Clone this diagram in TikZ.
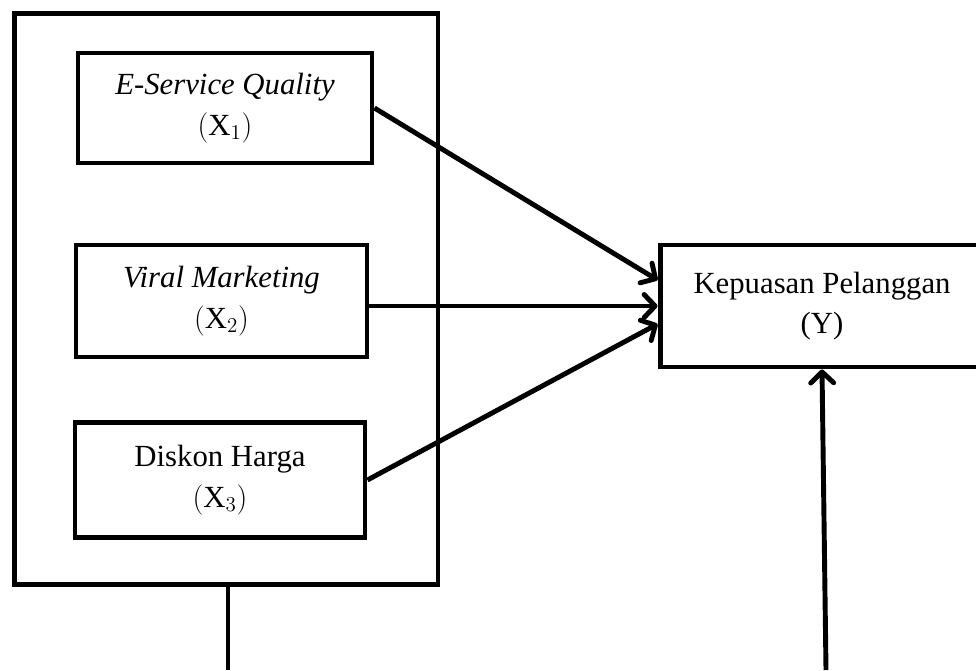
\documentclass[tikz,border=0pt]{standalone}
\usepackage{fontspec}
\setmainfont{Liberation Serif}
\usetikzlibrary{arrows.meta}

\begin{document}
\begin{tikzpicture}[x=0.02cm,y=-0.02cm,line width=2.8pt,
    >={Straight Barb[round,length=0.22cm,width=0.46cm]},
    box/.style={draw,line width=2.8pt,align=center,inner sep=0pt,
      font=\fontsize{17.5}{23}\selectfont}]
    \clip (0,0) rectangle (976,670);
    % variabel bebas
    \node[box,minimum width=8.48cm,minimum height=11.44cm] (outer) at (226,299) {};
    \node[box,minimum width=5.88cm,minimum height=2.2cm] (eserv) at (225,108)
        {\textit{E-Service Quality}\\$(\mathrm{X}_1)$};
    \node[box,minimum width=5.82cm,minimum height=2.24cm] (viral) at (221.5,301)
        {\textit{Viral Marketing}\\$(\mathrm{X}_2)$};
    \node[box,minimum width=5.8cm,minimum height=2.3cm] (diskon) at (220,480)
        {Diskon Harga\\$(\mathrm{X}_3)$};
    % variabel terikat
    \node[box,minimum width=6.48cm,minimum height=2.44cm] (kepuasan) at (822,306)
        {Kepuasan Pelanggan\\(Y)};
    \coordinate (lend) at (228,670);
    \coordinate (rend) at (826,670);
    \draw[->] (eserv.east) -- ([yshift=0.52cm]kepuasan.west);
    \draw[->] (kepuasan.west -| viral.east) -- (kepuasan.west);
    \draw[->] (diskon.east) -- ([yshift=-0.36cm]kepuasan.west);
    \draw (outer.south -| lend) -- (lend);
    \draw[->] (rend) -- (kepuasan.south);
\end{tikzpicture}
\end{document}
